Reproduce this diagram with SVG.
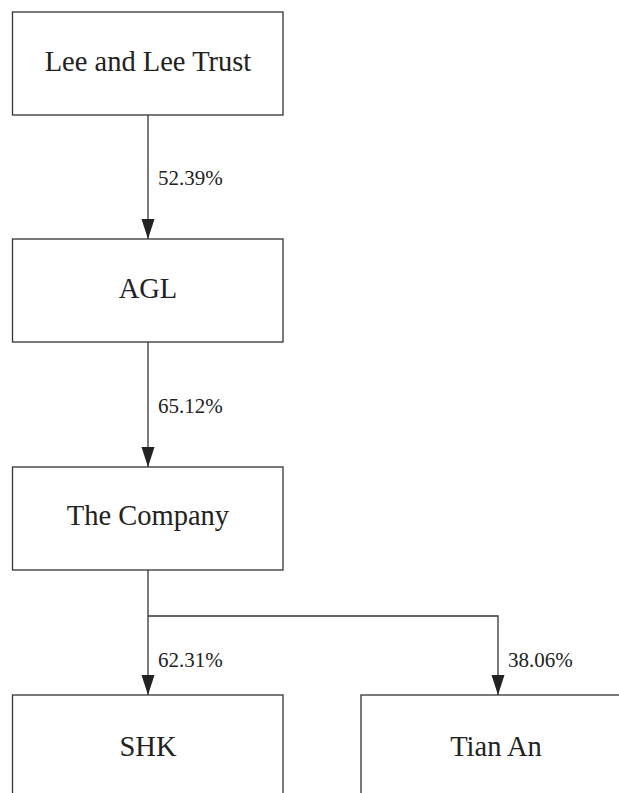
<svg xmlns="http://www.w3.org/2000/svg" width="619" height="793" viewBox="0 0 619 793">
<style>
.box{fill:#fff;stroke:#333;stroke-width:1.3}
.name{font-family:'Liberation Serif','Times New Roman','DejaVu Serif',serif;font-size:28.5px;fill:#222;text-anchor:middle}
.pct{font-family:'Liberation Serif','Times New Roman','DejaVu Serif',serif;font-size:21px;fill:#222}
.ln{fill:none;stroke:#333;stroke-width:1.3}
</style>
<defs>
<marker id="ah" markerUnits="userSpaceOnUse" markerWidth="21" markerHeight="14" refX="20" refY="7" orient="auto" viewBox="0 0 21 14">
<path d="M0,0.5 L20,7 L0,13.5 Z" fill="#222"/>
</marker>
</defs>
<rect width="619" height="793" fill="#fff"/>
<g id="connectors">
<line class="ln" x1="148" y1="115" x2="148" y2="239" marker-end="url(#ah)"/>
<line class="ln" x1="148" y1="342" x2="148" y2="467" marker-end="url(#ah)"/>
<line class="ln" x1="148" y1="570" x2="148" y2="695" marker-end="url(#ah)"/>
<polyline class="ln" points="148,616 498,616 498,695" marker-end="url(#ah)"/>
<text class="pct" x="158" y="185">52.39%</text>
<text class="pct" x="158" y="413">65.12%</text>
<text class="pct" x="158" y="667">62.31%</text>
<text class="pct" x="508" y="667">38.06%</text>
</g>
<g id="lee">
<rect class="box" x="12.5" y="12" width="270.5" height="103"/>
<text class="name" x="148" y="71">Lee and Lee Trust</text>
</g>
<g id="agl">
<rect class="box" x="12.5" y="239" width="270.5" height="103"/>
<text class="name" x="148" y="298">AGL</text>
</g>
<g id="company">
<rect class="box" x="12.5" y="467" width="270.5" height="103"/>
<text class="name" x="148" y="525">The Company</text>
</g>
<g id="shk">
<rect class="box" x="12.5" y="695" width="270.5" height="110"/>
<text class="name" x="148" y="756">SHK</text>
</g>
<g id="tianan">
<rect class="box" x="361" y="695" width="270.5" height="110"/>
<text class="name" x="496" y="756">Tian An</text>
</g>
</svg>
